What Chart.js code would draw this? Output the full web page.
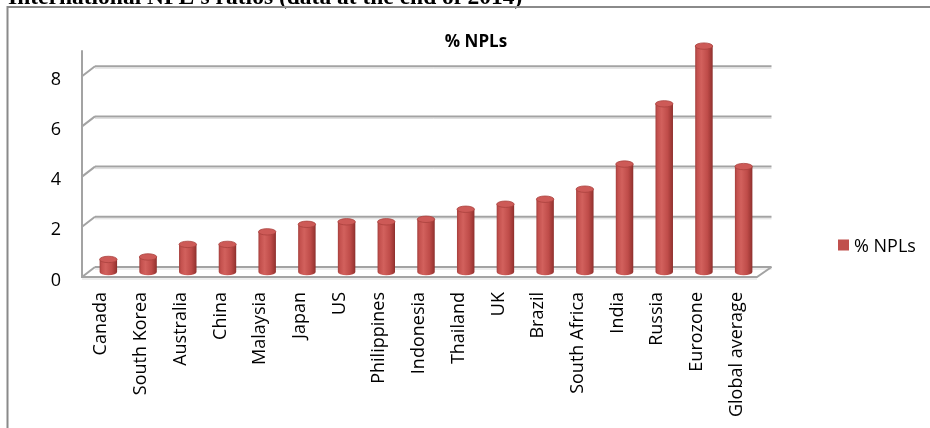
<!DOCTYPE html>
<html>
<head>
<meta charset="utf-8">
<title>International NPL's ratios</title>
<script src="https://cdn.jsdelivr.net/npm/chart.js@4.4.1/dist/chart.umd.min.js"></script>
<style>
  html, body { margin: 0; padding: 0; background: #ffffff; }
  canvas { display: block; }
</style>
</head>
<body>
<canvas id="npl-chart" width="930" height="428"></canvas>
<script>
// NPL ratios at the end of 2014, in %
const countries = [
  'Canada', 'South Korea', 'Australia', 'China', 'Malaysia', 'Japan', 'US',
  'Philippines', 'Indonesia', 'Thailand', 'UK', 'Brazil', 'South Africa',
  'India', 'Russia', 'Eurozone', 'Global average'
];
const nplRatios = [0.5, 0.6, 1.1, 1.1, 1.6, 1.9, 2.0, 2.0, 2.1, 2.5, 2.7, 2.9, 3.3, 4.3, 6.7, 9.0, 4.2];
const yTicks = [0, 2, 4, 6, 8];

const seriesLabel = '% NPLs';
const docTitle = "International NPL's ratios (data at the end of 2014)";

const BAR_RED = '#c0504d';
const GRID_GRAY = '#a3a3a3';
const GRID_SHADE = '#dcdcdc';
const FRAME_GRAY = '#8a8a8a';
const BAR_SHARE = 0.44;

// oblique 3D depth: bars stand halfway between the front edge and the back wall
const HALF_DX = 6.5;
const HALF_DY = 5;

const FONT = 'Open Sans';

function barHalfWidth(chart) {
  const xs = chart.scales.x;
  return xs.width / countries.length * BAR_SHARE / 2;
}

// horizontal shading so each bar reads as a cylinder
function cylinderGradient(chart, cx) {
  const half = barHalfWidth(chart);
  const g = chart.ctx.createLinearGradient(cx - half, 0, cx + half, 0);
  g.addColorStop(0, '#a4403d');
  g.addColorStop(0.12, '#c4514e');
  g.addColorStop(0.35, '#d2615d');
  g.addColorStop(0.7, '#bf4c49');
  g.addColorStop(0.92, '#9e3835');
  g.addColorStop(1, '#8a2e2c');
  return g;
}

function cylinderFill(context) {
  const chart = context.chart;
  if (!chart.chartArea || context.type !== 'data') return BAR_RED;
  const cx = chart.scales.x.getPixelForValue(context.dataIndex);
  return cylinderGradient(chart, cx);
}

function line(ctx, x1, y1, x2, y2) {
  ctx.beginPath();
  ctx.moveTo(x1, y1);
  ctx.lineTo(x2, y2);
  ctx.stroke();
}

// page heading and chart frame
const framePlugin = {
  id: 'frame',
  beforeDraw(chart) {
    const ctx = chart.ctx;
    ctx.save();
    ctx.fillStyle = '#000';
    ctx.font = 'bold 23.5px "Liberation Serif"';
    ctx.textBaseline = 'alphabetic';
    ctx.textAlign = 'left';
    ctx.fillText(docTitle, 8, 3.5);

    ctx.strokeStyle = FRAME_GRAY;
    ctx.lineWidth = 2;
    ctx.beginPath();
    ctx.moveTo(7.5, chart.height + 2);
    ctx.lineTo(7.5, 7);
    ctx.lineTo(chart.width + 2, 7);
    ctx.stroke();
    ctx.restore();
  }
};

// back wall, side wall and floor of the 3D plot box
const wallsPlugin = {
  id: 'walls',
  beforeDatasetsDraw(chart) {
    const { ctx, chartArea: area, scales: { y } } = chart;
    const frontLeft = area.left - HALF_DX;
    const backLeft = area.left + HALF_DX;
    const backRight = area.right + HALF_DX + 1.5;
    const frontRight = area.right - HALF_DX;
    const base = y.getPixelForValue(0);

    ctx.save();
    ctx.lineCap = 'butt';
    yTicks.forEach(v => {
      const ym = y.getPixelForValue(v);
      ctx.strokeStyle = GRID_SHADE;
      ctx.lineWidth = 1;
      line(ctx, backLeft, ym - HALF_DY + 2, backRight, ym - HALF_DY + 2);
      ctx.strokeStyle = GRID_GRAY;
      ctx.lineWidth = 2;
      line(ctx, backLeft, ym - HALF_DY, backRight, ym - HALF_DY);
      line(ctx, frontLeft, ym + HALF_DY, backLeft, ym - HALF_DY);
    });

    // vertical axis on the side wall
    ctx.strokeStyle = GRID_GRAY;
    ctx.lineWidth = 2;
    line(ctx, frontLeft, area.top - 21, frontLeft, base + HALF_DY + 1);

    // floor front edge and right edge
    ctx.strokeStyle = GRID_SHADE;
    ctx.lineWidth = 1;
    line(ctx, frontLeft, base + HALF_DY + 2, frontRight, base + HALF_DY + 2);
    ctx.strokeStyle = GRID_GRAY;
    ctx.lineWidth = 2;
    ctx.beginPath();
    ctx.moveTo(frontLeft, base + HALF_DY);
    ctx.lineTo(frontRight, base + HALF_DY);
    ctx.lineTo(backRight, base - HALF_DY);
    ctx.stroke();
    ctx.restore();
  }
};

// rounded bottoms and elliptical tops of the cylinders
const cylinderPlugin = {
  id: 'cylinders',
  afterDatasetsDraw(chart) {
    const ctx = chart.ctx;
    const meta = chart.getDatasetMeta(0);
    const half = barHalfWidth(chart);
    const ry = 3.2;
    ctx.save();
    meta.data.forEach(bar => {
      ctx.fillStyle = cylinderGradient(chart, bar.x);
      ctx.beginPath();
      ctx.ellipse(bar.x, bar.base, half, ry, 0, 0, Math.PI);
      ctx.fill();

      ctx.fillStyle = '#cd5a57';
      ctx.strokeStyle = '#a9413e';
      ctx.lineWidth = 0.8;
      ctx.beginPath();
      ctx.ellipse(bar.x, bar.y, half, ry, 0, 0, Math.PI * 2);
      ctx.fill();
      ctx.stroke();
    });
    ctx.restore();
  }
};

// legend entry to the right of the plot
const sideLegendPlugin = {
  id: 'sideLegend',
  afterDraw(chart) {
    const ctx = chart.ctx;
    const ds = chart.data.datasets[0];
    ctx.save();
    ctx.fillStyle = BAR_RED;
    ctx.fillRect(838, 239.5, 11, 11);
    ctx.fillStyle = '#000';
    ctx.font = '18px "' + FONT + '"';
    ctx.textBaseline = 'middle';
    ctx.textAlign = 'left';
    ctx.fillText(ds.label, 854, 247);
    ctx.restore();
  }
};

new Chart(document.getElementById('npl-chart'), {
  type: 'bar',
  data: {
    labels: countries,
    datasets: [
      {
        label: seriesLabel,
        data: nplRatios,
        backgroundColor: cylinderFill,
        borderWidth: 0,
        categoryPercentage: 1,
        barPercentage: BAR_SHARE,
        clip: false
      }
    ]
  },
  options: {
    responsive: false,
    animation: false,
    layout: {
      padding: { left: 22, right: 0, top: 7, bottom: 0 }
    },
    scales: {
      x: {
        offset: true,
        grid: { display: false, drawTicks: false },
        border: { display: false },
        ticks: {
          autoSkip: false,
          minRotation: 90,
          maxRotation: 90,
          padding: 20,
          labelOffset: -7, // labels sit on the front edge
          color: '#000',
          font: { family: FONT, size: 18 }
        },
        afterFit(scale) {
          scale.height = 156;
        }
      },
      y: {
        min: 0,
        max: 8,
        grid: { display: false, drawTicks: false },
        border: { display: false },
        ticks: {
          stepSize: 2,
          padding: 27.5,
          labelOffset: HALF_DY + 3.5,
          color: '#000',
          font: { family: FONT, size: 18 }
        },
        afterFit(scale) {
          scale.width = 66.5;
        }
      },
      // empty strip on the right that holds the legend
      legendSpace: {
        type: 'linear',
        position: 'right',
        grid: { display: false, drawTicks: false },
        border: { display: false },
        ticks: { display: false },
        afterFit(scale) {
          scale.width = 166.5;
        }
      }
    },
    plugins: {
      legend: { display: false },
      tooltip: { enabled: false },
      title: {
        display: true,
        text: seriesLabel,
        color: '#000',
        font: { family: FONT, size: 17, weight: 'bold' },
        padding: { top: 24.5, bottom: 19.3 }
      }
    }
  },
  plugins: [framePlugin, wallsPlugin, cylinderPlugin, sideLegendPlugin]
});
</script>
</body>
</html>
